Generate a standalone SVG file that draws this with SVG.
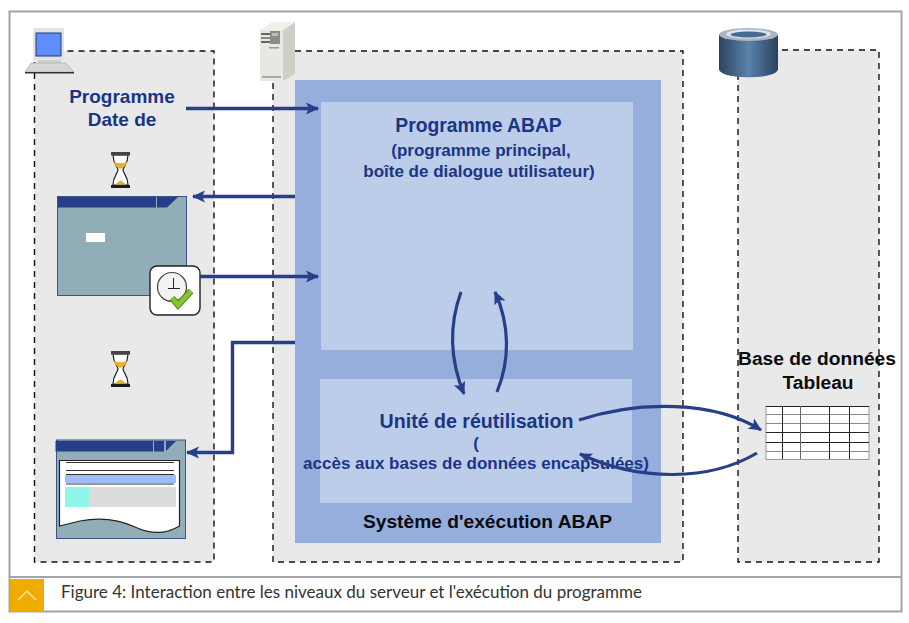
<svg xmlns="http://www.w3.org/2000/svg" width="909" height="623" viewBox="0 0 909 623">
<style>
.zone{fill:#e9e9e9;stroke:#111;stroke-width:1.4;stroke-dasharray:6 5}
.b{font-family:"Liberation Sans",Arial,sans-serif;font-weight:bold;fill:#1b3585}
.k{font-family:"Liberation Sans",Arial,sans-serif;font-weight:bold;fill:#0b0b12;font-size:19.200px;text-anchor:middle}
.conn{fill:none;stroke:#263f88;stroke-width:3.400}
.thin{fill:none;stroke:#263f88;stroke-width:3.200}
.title{fill:#263f88}
.hg{fill:#fff;stroke:#222;stroke-width:1.200}
.sand{fill:#e9b02c}
.cap{fill:#444}
</style>
<defs>
<marker id="arr" markerUnits="userSpaceOnUse" markerWidth="14" markerHeight="13" refX="12" refY="6.500" orient="auto"><path d="M0 .5L13 6.500L0 12.500L3 6.500Z" fill="#263f88"/></marker>
<linearGradient id="cyl" x1="0" x2="1" y1="0" y2="0"><stop offset="0" stop-color="#2c4460"/><stop offset=".5" stop-color="#5a82ab"/><stop offset="1" stop-color="#2a425c"/></linearGradient>
<g id="hourglass">
<path class="hg" d="M-7.500 -15C-7.500 -6 -2.500 -3 -2.500 0C-2.500 3 -7.500 6 -7.500 15H7.500C7.500 6 2.500 3 2.500 0C2.500 -3 7.500 -6 7.500 -15Z"/>
<path class="sand" d="M-6.800 -8C-3 -6.500 3 -6.500 6.800 -8C5 -3 2 -2 0 -1C-2 -2 -5 -3 -6.800 -8Z"/>
<path class="sand" d="M-5 14.500C-3.500 12 -1 11 0 10.500C1 11 3.500 12 5 14.500Z"/>
<rect class="cap" x="-9.500" y="-18" width="19" height="3.500"/>
<rect x="-9.500" y="15" width="19" height="3" fill="#1c1c1c"/>
</g>
</defs>
<rect width="909" height="623" fill="#fff"/>
<rect x="9.500" y="11.500" width="892" height="600" fill="none" stroke="#a4a4a8" stroke-width="2"/>
<line x1="9" y1="577" x2="902" y2="577" stroke="#a4a4a8" stroke-width="2"/>

<g id="zone-client"><rect class="zone" x="34.500" y="51" width="179.500" height="511"/></g>
<g id="zone-server"><rect class="zone" x="273" y="51" width="410" height="511"/></g>
<g id="zone-db"><rect class="zone" x="738" y="50" width="141" height="512"/></g>

<g id="runtime">
<rect x="295" y="80" width="366" height="463" fill="#95aedb"/>
<text class="k" x="487.500" y="528" text-anchor="middle">Système d'exécution ABAP</text>
</g>
<g id="abap-program">
<rect x="321" y="102" width="312" height="248" fill="#bbcde9"/>
<text class="b" x="478.500" y="132" text-anchor="middle" font-size="19.300">Programme ABAP</text>
<text class="b" x="481" y="156" text-anchor="middle" font-size="17">(programme principal,</text>
<text class="b" x="479" y="177" text-anchor="middle" font-size="17">boîte de dialogue utilisateur)</text>
</g>
<g id="reuse-unit">
<rect x="320" y="379" width="312" height="124" fill="#bbcde9"/>
<text class="b" x="476.500" y="428" text-anchor="middle" font-size="19.600">Unité de réutilisation</text>
<text class="b" x="476" y="449" text-anchor="middle" font-size="17">(</text>
<text class="b" x="476" y="469" text-anchor="middle" font-size="17">accès aux bases de données encapsulées)</text>
</g>

<g id="laptop">
<rect x="33" y="28" width="31" height="32" rx="2" fill="#e3e3e3"/>
<rect x="36" y="33" width="25" height="23" fill="#5f8efb" stroke="#1f3a86"/>
<rect x="38" y="60" width="23" height="3" fill="#cfcfcf"/>
<path d="M31 63H66L74 72H25Z" fill="#d6d6d6" stroke="#999" stroke-width=".5"/>
<rect x="25" y="72" width="49" height="1.500" fill="#333"/>
</g>
<g id="server">
<path d="M260 30L268 27H295L295 22L283 30V81H260Z" fill="#e8e8e2"/>
<path d="M283 30L295 22V74L283 81Z" fill="#cfcfca"/>
<path d="M260 30L272 22H295L283 30Z" fill="#f0f0eb"/>
<rect x="270" y="31" width="10" height="13" fill="#8d8d86"/>
<rect x="272" y="33" width="6" height="3" fill="#bdbdb5"/>
<rect x="261" y="33" width="9" height="2" fill="#666"/>
<rect x="261" y="37" width="9" height="2" fill="#888"/>
<rect x="261" y="41" width="9" height="2" fill="#666"/>
<rect x="269" y="47" width="10" height="1.500" fill="#999"/>
<rect x="262" y="76" width="19" height="2" fill="#aaa"/>
</g>
<g id="database">
<path d="M719 35V69C719 80 778 80 778 69V35Z" fill="url(#cyl)"/>
<ellipse cx="748.500" cy="34.500" rx="29.500" ry="6.500" fill="#a9b6c2"/>
<ellipse cx="748.500" cy="34" rx="22.500" ry="4.500" fill="#dbe4ec"/>
<ellipse cx="748.500" cy="34.500" rx="18" ry="3" fill="#466b90"/>
</g>
<g id="table">
<rect x="766" y="406.500" width="103" height="53" fill="#fff" stroke="#999"/>
<path d="M766 414.500H869M766 423.500H869M766 451.500H869" stroke="#888" fill="none"/>
<path d="M766 406.500H869M766 432.500H869M766 442.500H869" stroke="#222" fill="none"/>
<path d="M782.500 406V459M829.500 406V459M849.500 406V459" stroke="#222" fill="none"/>
<path d="M800.500 406V459" stroke="#666" fill="none"/>
<text class="k" x="817" y="365">Base de données</text>
<text class="k" x="818" y="389">Tableau</text>
</g>
<g id="program-start">
<text class="b" x="122" y="103" text-anchor="middle" font-size="19">Programme</text>
<text class="b" x="122" y="126" text-anchor="middle" font-size="19">Date de</text>
</g>
<g id="hourglass-1"><use href="#hourglass" x="120.500" y="170"/></g>
<g id="hourglass-2"><use href="#hourglass" x="120.500" y="369"/></g>
<g id="dialog">
<rect x="57.500" y="196.500" width="129" height="99" fill="#91adb8" stroke="#3d5585"/>
<rect x="58" y="197" width="98" height="10.500" class="title"/>
<rect x="157" y="197" width="10" height="10.500" class="title"/>
<path d="M167 197H178L167 207.500Z" class="title"/>
<rect x="86" y="233" width="19" height="9" fill="#fff"/>
</g>
<g id="clock-check">
<rect x="150" y="266" width="50" height="49" rx="7" fill="#fff" stroke="#222" stroke-width="1.400"/>
<circle cx="172" cy="287" r="14.500" fill="#f3f3f3" stroke="#444" stroke-width="1.200"/>
<path d="M173.500 278V288.500M168 288.500H180" stroke="#222" fill="none"/>
<path d="M172 298L178 305L191 291" fill="none" stroke="#4f8a18" stroke-width="6.500"/>
<path d="M172 298L178 305L191 291" fill="none" stroke="#85c42c" stroke-width="4.500"/>
</g>
<g id="list-window">
<rect x="56.500" y="440" width="129" height="98.500" fill="#91adb8" stroke="#3d5585"/>
<rect x="55.500" y="441" width="97.500" height="10.500" class="title"/>
<rect x="154" y="441" width="10" height="10.500" class="title"/>
<path d="M166 441H176L166 451Z" class="title"/>
<path d="M59.500 460.500H179.500V526C165 535 150 534 135 527C120 520 100 517 80 521L59.500 526Z" fill="#fff" stroke="#222" stroke-width="1.200"/>
<path d="M66 462.500H174M66 470.500H174M66 474.500H174M66 484H174" stroke="#333" fill="none"/>
<rect x="65" y="475" width="111" height="8" fill="#a0bdfb"/>
<rect x="65" y="487" width="111" height="20" fill="#dcdcdc"/>
<rect x="65" y="487" width="24" height="20" fill="#8ff7ea"/>
</g>

<g id="connectors">
<path class="conn" d="M186 108.500H318" marker-end="url(#arr)"/>
<path class="conn" d="M295 196.500H193" marker-end="url(#arr)"/>
<path class="conn" d="M200 276.500H318" marker-end="url(#arr)"/>
<path class="conn" d="M295 342.500H232.500V452.500H187" marker-end="url(#arr)"/>
<path class="thin" d="M461 292C449 325 450 360 464 394" marker-end="url(#arr)"/>
<path class="thin" d="M497 392C510 360 510 325 495 292" marker-end="url(#arr)"/>
<path class="thin" d="M579 420C640 400 715 401 761 430" marker-end="url(#arr)"/>
<path class="thin" d="M757 453C710 481 640 482 580 454" marker-end="url(#arr)"/>
</g>

<g id="caption">
<rect x="10" y="579" width="34" height="33" fill="#f0ab00"/>
<path d="M18 600L27 591L36 600" fill="none" stroke="#fbe3a8" stroke-width="1.500"/>
<text x="61" y="598" font-family="Lato,'Liberation Sans',sans-serif" font-size="17" fill="#333">Figure 4: Interaction entre les niveaux du serveur et l'exécution du programme</text>
</g>
</svg>
